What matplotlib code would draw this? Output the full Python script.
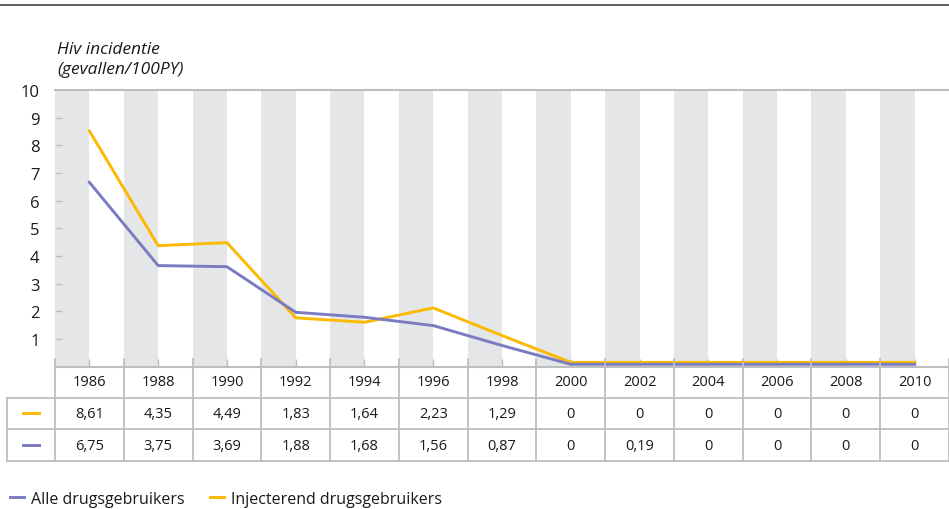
import matplotlib
matplotlib.use('Agg')

import matplotlib.pyplot as plt
from matplotlib.lines import Line2D

plt.rcParams['font.family'] = ['Open Sans', 'DejaVu Sans']

years = [1986, 1988, 1990, 1992, 1994, 1996, 1998, 2000, 2002, 2004, 2006, 2008, 2010]
# values as drawn by the lines in the chart
injecterend_line = [8.52, 4.37, 4.48, 1.76, 1.60, 2.12, 1.12, 0.15, 0.15, 0.15, 0.15, 0.15, 0.15]
alle_line = [6.66, 3.65, 3.61, 1.96, 1.78, 1.48, 0.76, 0.08, 0.08, 0.08, 0.08, 0.08, 0.08]
# values as printed in the table
injecterend_tab = ['8,61', '4,35', '4,49', '1,83', '1,64', '2,23', '1,29', '0', '0', '0', '0', '0', '0']
alle_tab = ['6,75', '3,75', '3,69', '1,88', '1,68', '1,56', '0,87', '0', '0,19', '0', '0', '0', '0']

YELLOW = '#FBB900'
PURPLE = '#7B7BC2'
BAND = '#E5E6E8'
GRID = '#BDBEC0'
TXT = '#1a1a1a'

W, H = 949, 510
fig = plt.figure(figsize=(W / 100, H / 100), dpi=100)

def px_rect(x0, y0, x1, y1):
    return [x0 / W, 1 - y1 / H, (x1 - x0) / W, (y1 - y0) / H]

# top rule
fig.add_artist(Line2D([0, 1], [1 - 6 / H, 1 - 6 / H], color='#555555', lw=1.3))

# main chart
ax = fig.add_axes(px_rect(55, 91, 949, 367.5))
xmin, xmax = years[0] - 1, years[-1] + 1
ax.set_xlim(xmin, xmax)
ax.set_ylim(0, 10)
for y in years:
    ax.axvspan(y - 1, y, color=BAND, lw=0, zorder=0)
ax.plot(years, injecterend_line, color=YELLOW, lw=2.1, zorder=3)
ax.plot(years, alle_line, color=PURPLE, lw=2.1, zorder=3)

for s in ['left', 'right']:
    ax.spines[s].set_visible(False)
for s in ['top', 'bottom']:
    ax.spines[s].set_color(GRID)
    ax.spines[s].set_linewidth(1.5)

ax.set_yticks(range(1, 11))
ax.set_yticklabels([str(v) for v in range(1, 11)], fontsize=12, color=TXT)
ax.tick_params(axis='y', direction='in', length=5, width=1, color=GRID, pad=11)
ax.yaxis.get_major_ticks()[-1].tick1line.set_visible(False)
ax.set_xticks(years)
ax.set_xticklabels([])
ax.tick_params(axis='x', direction='in', length=6, width=1, color=GRID)

fig.text(57 / W, 1 - 60 / H, 'Hiv incidentie\n(gevallen/100PY)', style='italic',
         fontsize=12.5, color=TXT, ha='left', va='center', linespacing=1.25)

# data table below the chart
left_px = 7
col_px = (949 - 55) / (xmax - xmin)
tab = fig.add_axes(px_rect(left_px, 360, 949, 462))
tab.set_xlim(xmin - (55 - left_px) / col_px, xmax)
tab.set_ylim(3, -0.22)
tab.axis('off')

edges = [y - 1 for y in years] + [xmax]
for e in edges:
    tab.plot([e, e], [-0.22, 3], color=GRID, lw=1.3, clip_on=False)
legend_left = tab.get_xlim()[0]
tab.plot([legend_left, legend_left], [1, 3], color=GRID, lw=1.3, clip_on=False)
for r in [1, 2, 3]:
    tab.plot([legend_left, xmax], [r, r], color=GRID, lw=1.3, clip_on=False)

for i, y in enumerate(years):
    tab.text(y, 0.5, str(y), ha='center', va='center', fontsize=10.5, color=TXT)
    tab.text(y, 1.5, injecterend_tab[i], ha='center', va='center', fontsize=10.5, color=TXT)
    tab.text(y, 2.5, alle_tab[i], ha='center', va='center', fontsize=10.5, color=TXT)

mid = (legend_left + xmin) / 2
half = 0.22
tab.plot([mid - half, mid + half], [1.5, 1.5], color=YELLOW, lw=2.1, clip_on=False)
tab.plot([mid - half, mid + half], [2.5, 2.5], color=PURPLE, lw=2.1, clip_on=False)

# legend
handles = [Line2D([], [], color=PURPLE, lw=2.1), Line2D([], [], color=YELLOW, lw=2.1)]
fig.legend(handles, ['Alle drugsgebruikers', 'Injecterend drugsgebruikers'],
           loc='center left', bbox_to_anchor=(-4 / W, 1 - 500 / H), ncol=2, frameon=False,
           fontsize=11.5, handlelength=0.85, handletextpad=0.45, columnspacing=1.6,
           labelcolor=TXT)

fig.savefig('out.png', dpi=100)
plt.close(fig)
